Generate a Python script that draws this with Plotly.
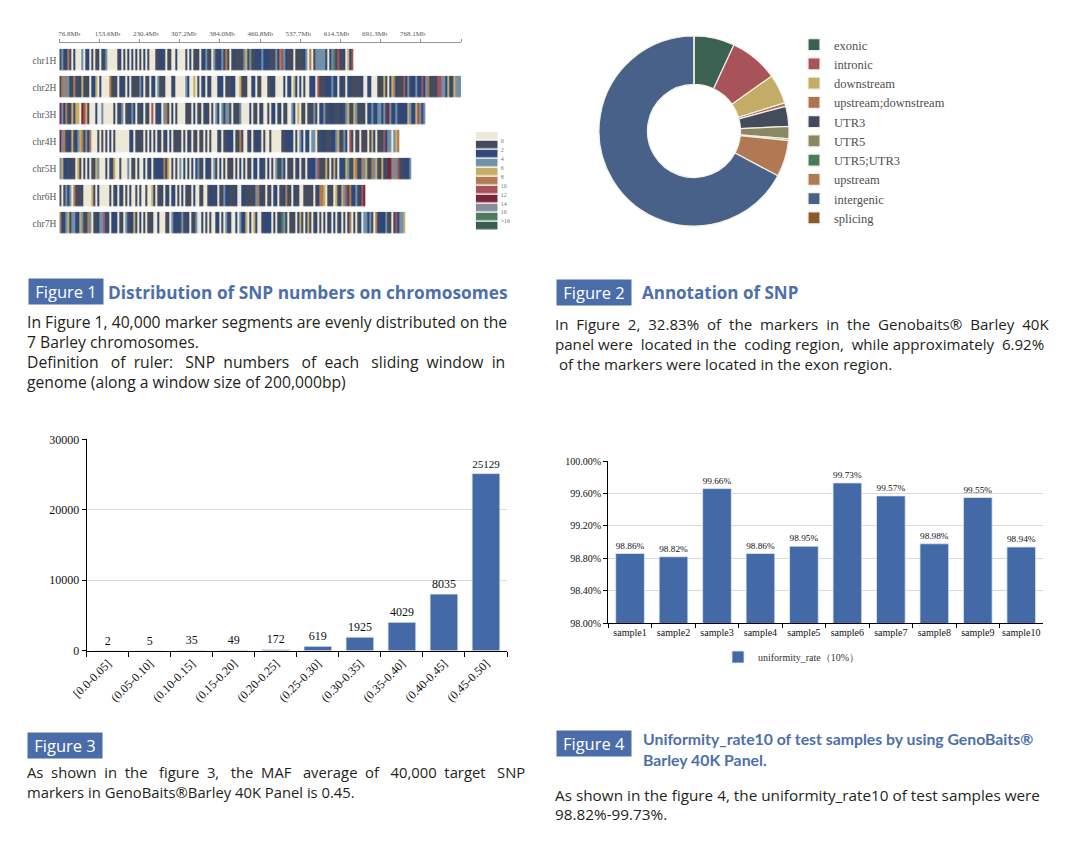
import plotly.graph_objects as go

W, H = 1087, 843          # size of the reference picture
PAGE_OFFSET = 8           # default body margin of the html page
FW, FH = W - PAGE_OFFSET, H - PAGE_OFFSET


def fx(p):
    return (p - PAGE_OFFSET) / FW


def fy(p):
    return 1 - (p - PAGE_OFFSET) / FH


SERIF = "Liberation Serif"
SANS = "Open Sans"
BLUE_HEAD = "#4A6CA8"
TITLE_BLUE = "#4D6FAB"
TEXT_DARK = "#231F20"

# ---------------- Figure 1: SNP density per window on chromosomes ----------------
CHROMOSOMES = ["chr1H", "chr2H", "chr3H", "chr4H", "chr5H", "chr6H", "chr7H"]
# density class per ~3.8 Mb bin
# c=0  d=2  b=4  s=6  y=8  o=10  r=12  m=14  g=16  n=>16  k=>16(dark)
CHR_BINS = [
    "dsbbodcbcc" "cscbbcdcdd" "cbdscccccd" "bcdcbcdcbc" "dcbcdcccdd" "bbdcddccbc" "cccdcbcddd" "cbbsddcsdb" "bsdodcdbdd" "ddsydsddbbb"
    "sbbbdddsbo" "rsbdddcddd" "dbscocdsss" "ssdcbsndrd" "dbcybr",
    "dososbdodd" "bydddcbbyc" "bccccodddc" "bbdcbcdddd" "sbcddcbbcs" "dddcccbdcc" "cccsbccycd" "cbbcbdcccb" "bbcdddbbcc" "ydddccbbcdd"
    "cccddbdccc" "cbcbbcybcb" "cdccbbbcrd" "ddbbbsbbcd" "bdcbbddddd" "bccbbcccdd" "dydcbyobdd" "drbsdbbsbb" "rbsoddddrr" "ssbybdygss",
    "msbodbydyy" "cmrydcccbc" "cscccccdcb" "dscddbsbcd" "dbcddcrcdb" "bcsodcbcdc" "cccdddcbcd" "dcdbdcdcsb" "csdssdcddd" "sccccbcddcb"
    "dccdcbbcdb" "cddccsbcyc" "ddcdddsdcb" "bsddbbdddb" "bdsyddysdd" "ddcbbsbbss" "bsdmsbbsbb" "bbbysbbyrs" "ds",
    "msodbbydbs" "yodsbocccd" "cdcdcbcdcc" "cccccbbcdd" "ddcdcbcdcb" "dcdbcbcddd" "dcdcbdcddc" "ddcdcdcccb" "dcddbbbcdd" "odccdbcdbbd"
    "cdccdccccc" "ddbbbbcdcs" "bcbbcsscdd" "bbdddbbsyd" "dsbcrdcddc" "dddcdybcdd" "drbsscsyo",
    "sybbdbddcy" "dcdcbcddys" "cccdcbdycc" "dcccscddcd" "ccbcdbcdbb" "bbodycdcdc" "scbcdcbcbs" "ddcbbdcsdc" "bcdcdddcdc" "bcdcddcbbcb"
    "bdcbcdcsdd" "sbcdddcdbc" "ddcbbbbsrd" "ddydcbydcb" "bbysddyodb" "osyddosydd" "ybdmmsosrd" "dbbbs",
    "dcdsbscodd" "ddccccydcb" "cccccdcdbc" "bdcdcbccdc" "bccdccybcd" "ddcbdcbbcd" "cbcdddcbcc" "ddccdbbdbc" "ddsbbdddbc" "cbbdddddsod"
    "bdcddcbbcd" "dboddcbddc" "cdddddcdbo" "oycdddcydb" "ysrdobbsdb" "rm",
    "obbsydssbb" "ysddoscddb" "ssrbdcbbbc" "ddcsdbbydc" "bcdcdddccb" "cccddcsbbb" "dsddbcddsc" "cbcdcdccbb" "cdcsbdccbc" "sbbycbcybcc"
    "dbbbbcdcbd" "nsdcdddcby" "dcbydcdbcd" "cdcbdcbcdb" "cdcbocdcdb" "cssbsdcobb" "bbsddcdrbs" "sy",
]
CLASS_CODES = "cdbsyormgnk"
CLASS_COLORS = ["#EDE8D7", "#444B5D", "#2F4878", "#7190AA", "#C6AE69", "#B07A52",
                "#A65258", "#7A2638", "#878D9C", "#4C7B5E", "#385F52"]
CLASS_LABELS = ["0", "2", "4", "6", "8", "10", "12", "14", "16", ">16"]
BIN_MB = 3.82
RULER_STEP_MB = 76.81
RULER_LABELS = ["76.8Mb", "153.6Mb", "230.4Mb", "307.2Mb", "384.0Mb",
                "460.8Mb", "537.7Mb", "614.5Mb", "691.3Mb", "768.1Mb"]

# ---------------- Figure 2: annotation of SNP ----------------
ANNOT_LABELS = ["exonic", "intronic", "downstream", "upstream;downstream", "UTR3",
                "UTR5", "UTR5;UTR3", "upstream", "intergenic", "splicing"]
ANNOT_VALUES = [6.92, 8.30, 5.00, 0.60, 3.40, 2.10, 0.30, 6.20, 67.17, 0.01]
ANNOT_COLORS = ["#3A6152", "#A85359", "#C3AC65", "#AE7350", "#434B5C",
                "#8B8763", "#4B7A5D", "#B07853", "#476189", "#8B5A2B"]

# ---------------- Figure 3: MAF distribution ----------------
MAF_BINS = ["[0.0-0.05]", "(0.05-0.10]", "(0.10-0.15]", "(0.15-0.20]", "(0.20-0.25]",
            "(0.25-0.30]", "(0.30-0.35]", "(0.35-0.40]", "(0.40-0.45]", "(0.45-0.50]"]
MAF_COUNTS = [2, 5, 35, 49, 172, 619, 1925, 4029, 8035, 25129]

# ---------------- Figure 4: uniformity rate ----------------
SAMPLES = ["sample1", "sample2", "sample3", "sample4", "sample5",
           "sample6", "sample7", "sample8", "sample9", "sample10"]
UNIFORMITY = [0.9886, 0.9882, 0.9966, 0.9886, 0.9895, 0.9973, 0.9957, 0.9898, 0.9955, 0.9894]

# ---------------- texts ----------------
FIG1_TITLE = "Distribution of SNP numbers on chromosomes"
FIG1_TEXT = ["In Figure 1, 40,000 marker segments are evenly distributed on the",
             "7 Barley chromosomes.",
             "Definition&nbsp;&nbsp; of&nbsp; ruler:&nbsp;&nbsp; SNP&nbsp; numbers&nbsp;&nbsp; of&nbsp; each&nbsp;&nbsp; sliding&nbsp; window&nbsp; in",
             "genome (along a window size of 200,000bp)"]
FIG2_TITLE = "Annotation of SNP"
FIG2_TEXT = ["In&nbsp; Figure&nbsp; 2,&nbsp; 32.83%&nbsp; of&nbsp; the&nbsp; markers&nbsp; in&nbsp; the&nbsp; Genobaits®&nbsp; Barley&nbsp; 40K",
             "panel were&nbsp; located in the&nbsp; coding region,&nbsp; while approximately&nbsp; 6.92%",
             "&nbsp;of the markers were located in the exon region."]
FIG3_TEXT = ["As&nbsp; shown&nbsp; in&nbsp; the&nbsp;&nbsp; figure&nbsp; 3,&nbsp;&nbsp; the&nbsp; MAF&nbsp;&nbsp; average&nbsp; of&nbsp;&nbsp; 40,000&nbsp; target&nbsp;&nbsp; SNP",
             "markers in GenoBaits®Barley 40K Panel is 0.45."]
FIG4_TITLE = ["Uniformity_rate10 of test samples by using GenoBaits®", "Barley 40K Panel."]
FIG4_TEXT = ["As shown in the figure 4, the uniformity_rate10 of test samples were",
             "98.82%-99.73%."]

fig = go.Figure()

# ---- Figure 1 heatmap
max_len = max(len(s) for s in CHR_BINS)
z = []
for s in CHR_BINS:
    row = [CLASS_CODES.index(ch) for ch in s]
    z.append(row + [None] * (max_len - len(row)))
n_cls = len(CLASS_COLORS)
cscale = []
for k, col in enumerate(CLASS_COLORS):
    cscale.append([k / n_cls, col])
    cscale.append([(k + 1) / n_cls, col])

fig.add_trace(go.Heatmap(z=z, x0=BIN_MB / 2, dx=BIN_MB, y=list(range(len(CHROMOSOMES))),
                         colorscale=cscale, zmin=-0.5, zmax=n_cls - 0.5, showscale=False,
                         ygap=5.6, hoverinfo="skip", xaxis="x", yaxis="y"))
# empty trace so that the ruler label axis is drawn
fig.add_trace(go.Scatter(x=[], y=[], xaxis="x2", yaxis="y", showlegend=False, hoverinfo="skip"))

# colour key
fig.add_trace(go.Heatmap(z=[[k] for k in range(n_cls)], x=[0], y=list(range(n_cls)),
                         colorscale=cscale, zmin=-0.5, zmax=n_cls - 0.5, showscale=False,
                         ygap=1.4, hoverinfo="skip", xaxis="x3", yaxis="y3"))

# ---- Figure 2 donut
fig.add_trace(go.Pie(labels=ANNOT_LABELS, values=ANNOT_VALUES, hole=0.49, sort=False,
                     direction="clockwise", rotation=0, textinfo="none",
                     marker=dict(colors=ANNOT_COLORS, line=dict(color="#F3EFE4", width=1.2)),
                     domain=dict(x=[fx(599), fx(789)], y=[fy(226), fy(36)]),
                     legend="legend", showlegend=True, hoverinfo="label+percent"))

# ---- Figure 3 bars
fig.add_trace(go.Bar(x=MAF_BINS, y=MAF_COUNTS, text=[str(v) for v in MAF_COUNTS],
                     textposition="outside", cliponaxis=False,
                     textfont=dict(family=SERIF, size=12, color="#111"),
                     marker=dict(color="#4369A7", line=dict(color="#E3E8F0", width=0.8)),
                     showlegend=False, xaxis="x4", yaxis="y4"))

# ---- Figure 4 bars
fig.add_trace(go.Bar(x=SAMPLES, y=UNIFORMITY, base=0,
                     text=[f"{v*100:.2f}%" for v in UNIFORMITY],
                     textposition="outside", cliponaxis=False,
                     textfont=dict(family=SERIF, size=9.5, color="#111"),
                     marker=dict(color="#4369A7", line=dict(color="#E3E8F0", width=0.8)),
                     name="uniformity_rate\uff0810%\uff09", legend="legend2", showlegend=True,
                     xaxis="x5", yaxis="y5"))

ruler_ticks = [i * RULER_STEP_MB for i in range(len(RULER_LABELS) + 1)]
label_pos = [((i + 1) * 0.95 - 0.7) * RULER_STEP_MB for i in range(len(RULER_LABELS))]
x_end = RULER_STEP_MB * len(RULER_LABELS)

axis_off = dict(showgrid=False, zeroline=False, showline=False, ticks="", showticklabels=False)

layout = dict(
    width=FW, height=FH, margin=dict(l=0, r=0, t=0, b=0, autoexpand=False),
    paper_bgcolor="white", plot_bgcolor="rgba(0,0,0,0)",
    bargap=0.34,
    xaxis=dict(domain=[fx(59.3), fx(461)], range=[0, x_end], side="top", anchor="y",
               tickvals=ruler_ticks, showticklabels=False, ticks="outside", ticklen=3,
               tickcolor="#8E939E", showline=True, linecolor="#8E939E", linewidth=1.2,
               showgrid=False, zeroline=False, automargin=False),
    xaxis2=dict(overlaying="x", anchor="y", side="top", range=[0, x_end],
                tickvals=label_pos, ticktext=RULER_LABELS, ticks="", showline=False,
                showgrid=False, zeroline=False, ticklabelstandoff=4, automargin=False,
                tickfont=dict(family=SERIF, size=7, color="#555")),
    yaxis=dict(domain=[fy(236.9), fy(42.7)], range=[6.5, -0.653], anchor="x",
               tickvals=list(range(len(CHROMOSOMES))), ticktext=CHROMOSOMES,
               showgrid=False, zeroline=False, showline=False, ticks="",
               ticklabelstandoff=2, automargin=False,
               tickfont=dict(family=SERIF, size=9.5, color="#555")),
    xaxis3=dict(domain=[fx(475.7), fx(497.7)], range=[-0.5, 0.5], anchor="y3",
                automargin=False, **axis_off),
    yaxis3=dict(domain=[fy(230.3), fy(131.7)], range=[n_cls - 0.5, -0.5], anchor="x3",
                side="right", tickvals=[k + 0.5 for k in range(len(CLASS_LABELS))],
                ticktext=CLASS_LABELS, ticks="", showgrid=False, zeroline=False,
                showline=False, ticklabelstandoff=2, automargin=False,
                tickfont=dict(family=SERIF, size=6, color="#777")),
    xaxis4=dict(domain=[fx(86.7), fx(507)], anchor="y4", type="category",
                tickangle=-45, tickson="boundaries", ticks="outside", ticklen=5,
                tickcolor="#000", showline=True, linecolor="#000", linewidth=1.3,
                showgrid=False, automargin=False,
                tickfont=dict(family=SERIF, size=12, color="#111")),
    yaxis4=dict(domain=[fy(650.7), fy(439.3)], range=[0, 30000], anchor="x4",
                tickvals=[0, 10000, 20000, 30000], tickformat="d", ticks="outside", ticklen=4,
                tickcolor="#000", showline=True, linecolor="#000", linewidth=1.3,
                showgrid=True, gridcolor="#D9D9D9", gridwidth=1, zeroline=False,
                automargin=False, tickfont=dict(family=SERIF, size=12, color="#111")),
    xaxis5=dict(domain=[fx(608.3), fx(1043)], anchor="y5", type="category",
                tickangle=0, tickson="boundaries", ticks="outside", ticklen=4, tickcolor="#000",
                showline=True, linecolor="#000", linewidth=1.2, showgrid=False,
                automargin=False, tickfont=dict(family=SERIF, size=10, color="#111")),
    yaxis5=dict(domain=[fy(623.3), fy(461)], range=[0.98, 1.0], anchor="x5",
                tickvals=[0.98, 0.984, 0.988, 0.992, 0.996, 1.0], tickformat=".2%",
                ticks="outside", ticklen=4, tickcolor="#000", showline=True,
                linecolor="#000", linewidth=1.2, showgrid=True, gridcolor="#D9D9D9",
                zeroline=False, automargin=False,
                tickfont=dict(family=SERIF, size=10, color="#111")),
    legend=dict(x=fx(794), y=fy(30), xanchor="left", yanchor="top",
                bgcolor="rgba(0,0,0,0)", itemwidth=30,
                font=dict(family=SERIF, size=12.5, color="#505050")),
    legend2=dict(x=fx(718), y=fy(657), xanchor="left", yanchor="middle",
                 bgcolor="rgba(0,0,0,0)", itemwidth=30, orientation="h",
                 font=dict(family=SERIF, size=10, color="#333")),
)
fig.update_layout(**layout)

ann = []


def box(label, x0, y0):
    ann.append(dict(text=label, x=fx(x0), y=fy(y0), xref="paper", yref="paper",
                    xanchor="left", yanchor="top", showarrow=False, bgcolor=BLUE_HEAD,
                    width=74, height=25, borderpad=0, align="center",
                    font=dict(family=SANS, size=16.5, color="white")))


def line(text, x0, yc, size=14, color=TEXT_DARK, family=SANS, bold=False):
    t = f"<b>{text}</b>" if bold else text
    ann.append(dict(text=t, x=fx(x0), y=fy(yc), xref="paper", yref="paper",
                    xanchor="left", yanchor="middle", showarrow=False, align="left",
                    font=dict(family=family, size=size, color=color)))


box("Figure 1", 28, 278)
line(FIG1_TITLE, 106, 292, size=17.3, color=TITLE_BLUE, bold=True)
for t, yy in zip(FIG1_TEXT, [322.3, 341.9, 361.7, 381.7]):
    line(t, 25, yy, size=15.7)

box("Figure 2", 555.7, 279.3)
line(FIG2_TITLE, 640, 292.3, size=17, color=TITLE_BLUE, bold=True)
for t, yy in zip(FIG2_TEXT, [324.3, 344, 364.3]):
    line(t, 553, yy, size=15.1)

box("Figure 3", 27.3, 731.7)
for t, yy in zip(FIG3_TEXT, [772.2, 791.6]):
    line(t, 25, yy, size=14.8)

box("Figure 4", 555.7, 730)
for t, yy in zip(FIG4_TITLE, [738.3, 759.3]):
    line(t, 641, yy, size=15.8, color=TITLE_BLUE, family="Lato", bold=True)
for t, yy in zip(FIG4_TEXT, [795, 814.3]):
    line(t, 553, yy, size=15.3)

fig.update_layout(annotations=ann)
fig.write_html("out.html")
